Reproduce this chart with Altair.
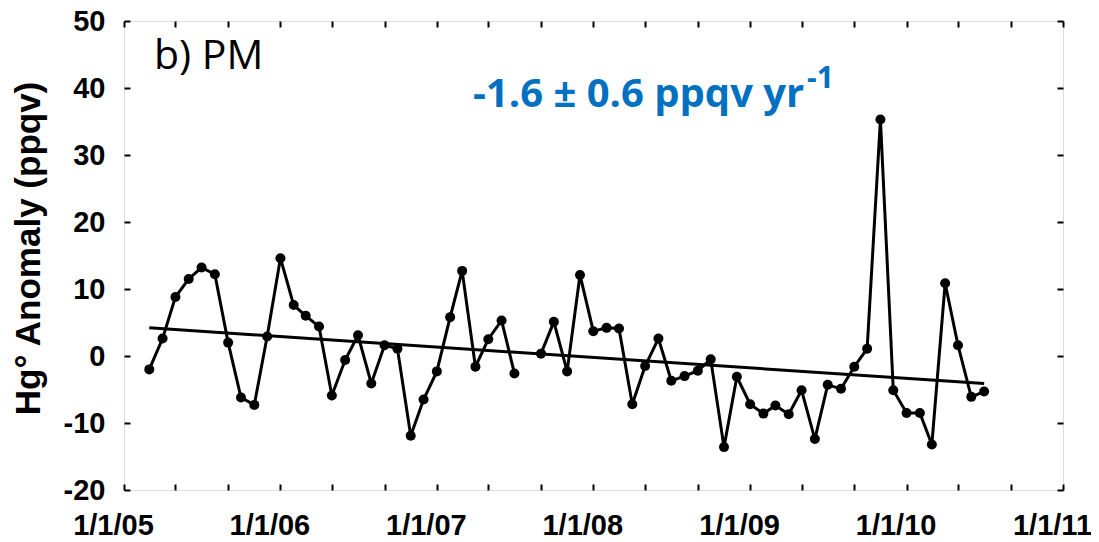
import altair as alt
import pandas as pd

# ---- data ----
dates = [
    "2005-03-01", "2005-04-01", "2005-05-01", "2005-06-01", "2005-07-01", "2005-08-01",
    "2005-09-01", "2005-10-01", "2005-11-01", "2005-12-01",
    "2006-01-01", "2006-02-01", "2006-03-01", "2006-04-01", "2006-05-01", "2006-06-01",
    "2006-07-01", "2006-08-01", "2006-09-01", "2006-10-01", "2006-11-01", "2006-12-01",
    "2007-01-01", "2007-02-01", "2007-03-01", "2007-04-01", "2007-05-01", "2007-06-01",
    "2007-07-01", "2007-08-01", "2007-09-01", "2007-10-01", "2007-11-01", "2007-12-01",
    "2008-01-01", "2008-02-01", "2008-03-01", "2008-04-01", "2008-05-01", "2008-06-01",
    "2008-07-01", "2008-08-01", "2008-09-01", "2008-10-01", "2008-11-01", "2008-12-01",
    "2009-01-01", "2009-02-01", "2009-03-01", "2009-04-01", "2009-05-01", "2009-06-01",
    "2009-07-01", "2009-08-01", "2009-09-01", "2009-10-01", "2009-11-01", "2009-12-01",
    "2010-01-01", "2010-02-01", "2010-03-01", "2010-04-01", "2010-05-01", "2010-06-01",
    "2010-07-01",
]
values = [
    -2.0, 2.6, 8.8, 11.5, 13.2, 12.2, 2.0, -6.2, -7.3, 2.9,
    14.6, 7.6, 6.0, 4.4, -5.9, -0.6, 3.1, -4.1, 1.6, 1.1, -11.9, -6.5,
    -2.3, 5.8, 12.7, -1.6, 2.5, 5.3, -2.6, None, 0.35, 5.1, -2.3, 12.1,
    3.7, 4.2, 4.1, -7.2, -1.5, 2.6, -3.7, -3.0, -2.2, -0.5, -13.6, -3.1,
    -7.2, -8.6, -7.4, -8.7, -5.1, -12.4, -4.3, -4.9, -1.6, 1.1, 35.3, -5.1,
    -8.5, -8.5, -13.2, 10.85, 1.6, -6.1, -5.3,
]
trend_dates = ["2005-03-01", "2010-07-01"]
trend_values = [4.2, -4.1]

year_ticks = [2005, 2006, 2007, 2008, 2009, 2010, 2011]
minor_months = [1, 5, 9]
y_ticks = [-20, -10, 0, 10, 20, 30, 40, 50]

panel_label = "b) PM"
trend_label = "-1.6 ± 0.6 ppqv yr"
trend_sup = "-1"
y_title = "Hg° Anomaly (ppqv)"

# ---- tables ----
seg = []
s = 0
for v in values:
    if v is None:
        s += 1
    seg.append(s)
df = pd.DataFrame({"date": dates, "value": values, "seg": seg})
df = df[df["value"].notna()]
trend_df = pd.DataFrame({"date": trend_dates, "value": trend_values})

W, H = 939, 469
FONT = "Liberation Sans"


def dt(y, m=1):
    return alt.DateTime(year=y, month=m, date=1, utc=True)


year_vals = [dt(y) for y in year_ticks]
minor_vals = [dt(y, m) for y in year_ticks[:-1] for m in minor_months] + [dt(year_ticks[-1])]

xscale = alt.Scale(type="utc", domain=[dt(year_ticks[0]), dt(year_ticks[-1])])
yscale = alt.Scale(domain=[-20, 50], nice=False, zero=False)

x_main = alt.X(
    "date:T", scale=xscale,
    axis=alt.Axis(values=year_vals, labelExpr="utcFormat(datum.value, '%-m/%-d/%y')",
                  labelFont=FONT, labelFontSize=29, labelFontWeight="bold",
                  labelColor="black", labelPadding=21, labelOffset=-11,
                  labelFlush=False, labelOverlap=False,
                  ticks=False, tickSize=0, domain=False, grid=False, title=None),
)
y_main = alt.Y(
    "value:Q", scale=yscale,
    axis=alt.Axis(values=y_ticks, labelExpr="replace(format(datum.value, 'd'), '\u2212', '-')",
                  labelFont=FONT, labelFontSize=29, labelFontWeight="bold",
                  labelColor="black", labelPadding=19, ticks=False, tickSize=0,
                  labelFlush=False, labelOverlap=False,
                  domain=False, grid=False, title=y_title, titleFont=FONT,
                  titleFontSize=35, titleFontWeight="bold", titleColor="black",
                  titleX=-78, titleY=227, titleAlign="center", titleBaseline="bottom"),
)
x_none = alt.X("date:T", scale=xscale, axis=None)
y_none = alt.Y("value:Q", scale=yscale, axis=None)

tick_style = dict(labels=False, domain=False, grid=False, ticks=True, tickSize=6,
                  tickWidth=2, tickColor="black", title=None)

line = alt.Chart(df).mark_line(color="black", strokeWidth=3).encode(
    x=x_main, y=y_main, detail="seg:N")
points = alt.Chart(df).mark_circle(color="black", size=100, opacity=1).encode(
    x=x_none, y=y_none)
trend = alt.Chart(trend_df).mark_line(color="black", strokeWidth=3).encode(
    x=x_none, y=y_none)

ticks_a = alt.Chart(df).mark_point(opacity=0).encode(
    x=alt.X("date:T", scale=xscale,
            axis=alt.Axis(orient="top", offset=-H, values=minor_vals, **tick_style)),
    y=alt.Y("value:Q", scale=yscale,
            axis=alt.Axis(orient="right", offset=-W, values=y_ticks, **tick_style)),
)
ticks_b = alt.Chart(df).mark_point(opacity=0).encode(
    x=alt.X("date:T", scale=xscale,
            axis=alt.Axis(orient="bottom", offset=-H, values=minor_vals, **tick_style)),
    y=alt.Y("value:Q", scale=yscale,
            axis=alt.Axis(orient="left", offset=-W, values=y_ticks, **tick_style)),
)

panel_text = alt.Chart(pd.DataFrame({"t": [panel_label]})).mark_text(
    font="Open Sans", fontSize=41, color="black", align="left", baseline="alphabetic"
).encode(text="t:N", x=alt.value(30), y=alt.value(48))

trend_text = alt.Chart(pd.DataFrame({"t": [trend_label]})).mark_text(
    font="Open Sans", fontSize=40, fontWeight="bold", color="#0070C0",
    align="left", baseline="alphabetic"
).encode(text="t:N", x=alt.value(349), y=alt.value(86))

sup_text = alt.Chart(pd.DataFrame({"t": [trend_sup]})).mark_text(
    font="Open Sans", fontSize=30, fontWeight="bold", color="#0070C0",
    align="left", baseline="alphabetic"
).encode(text="t:N", x=alt.value(683), y=alt.value(67))

chart = alt.layer(
    ticks_a, ticks_b, trend, line, points, panel_text, trend_text, sup_text
).resolve_axis(
    x="independent", y="independent"
).properties(
    width=W, height=H,
    padding={"left": 116, "top": 13, "right": 28, "bottom": 52},
    autosize=alt.AutoSizeParams(type="none"),
).configure_view(
    stroke="black", strokeWidth=3
).configure(background="white")

chart.save("out.html", embed_options={"renderer": "svg", "actions": False})
